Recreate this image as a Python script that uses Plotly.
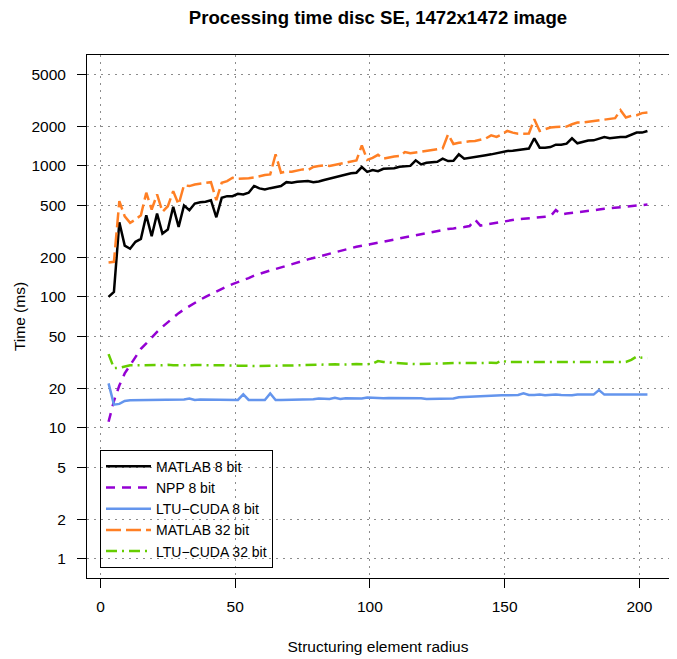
import plotly.graph_objects as go

radius = [3, 5, 7, 9, 11, 13, 15, 17, 19, 21, 23, 25, 27, 29, 31, 33, 35, 37, 39, 41,
          43, 45, 47, 49, 51, 53, 55, 57, 59, 61, 63, 65, 67, 69, 71, 73, 75, 77, 79, 81,
          83, 85, 87, 89, 91, 93, 95, 97, 99, 101, 103, 105, 107, 109, 111, 113, 115, 117, 119, 121,
          123, 125, 127, 129, 131, 133, 135, 137, 139, 141, 143, 145, 147, 149, 151, 153, 155, 157, 159, 161,
          163, 165, 167, 169, 171, 173, 175, 177, 179, 181, 183, 185, 187, 189, 191, 193, 195, 197, 199, 201,
          203]

matlab_8 = [100, 109, 371, 246, 233, 263, 277, 420, 290, 432, 304, 326, 487, 342, 498, 458, 516, 528, 532, 547,
            405, 570, 587, 587, 612, 605, 624, 702, 673, 661, 676, 693, 702, 751, 743, 755, 765, 765, 751, 760,
            780, 798, 812, 835, 861, 877, 887, 980, 900, 929, 912, 951, 955, 960, 986, 997, 1000, 1102, 1026, 1057,
            1069, 1076, 1135, 1089, 1095, 1225, 1135, 1156, 1175, 1190, 1205, 1225, 1255, 1278, 1300, 1307, 1322, 1338, 1355, 1625,
            1378, 1378, 1393, 1453, 1453, 1479, 1625, 1487, 1520, 1560, 1567, 1615, 1663, 1625, 1645, 1663, 1663, 1722, 1795, 1795,
            1849]

npp_8 = [11.1, 16, 21, 26, 30, 35, 40, 44, 49, 54, 59, 64, 70, 75, 80, 85, 90, 95, 100, 105,
         110, 115, 120, 125, 129, 134, 139, 145, 150, 154, 159, 163, 168, 173, 178, 183, 188, 193, 198, 203,
         208, 214, 220, 226, 232, 236, 241, 245, 249, 253, 258, 263, 268, 273, 279, 284, 289, 294, 300, 306,
         312, 320, 325, 330, 333, 335, 341, 347, 389, 350, 356, 362, 368, 375, 382, 388, 392, 395, 397, 401,
         405, 409, 412, 460, 425, 432, 438, 445, 451, 455, 460, 464, 470, 474, 478, 483, 490, 495, 500, 504,
         507]

ltu_8 = [21.8, 15.0, 15.2, 16.0, 16.2, 16.2, 16.2, 16.3, 16.3, 16.3, 16.3, 16.3, 16.3, 16.4, 16.4, 16.7, 16.3, 16.4, 16.4, 16.3,
         16.2, 16.3, 16.3, 16.3, 16.3, 18.0, 16.3, 16.3, 16.3, 16.3, 18.3, 16.3, 16.3, 16.3, 16.4, 16.4, 16.3, 16.4, 16.5, 16.7,
         16.6, 16.6, 16.9, 16.6, 16.8, 16.7, 16.8, 16.7, 17.0, 16.9, 17.0, 16.8, 16.9, 16.9, 16.9, 17.0, 17.0, 17.0, 16.8, 16.6,
         16.6, 16.6, 16.6, 16.6, 16.7, 17.1, 17.2, 17.3, 17.3, 17.4, 17.5, 17.5, 17.6, 17.7, 17.7, 17.7, 17.8, 18.3, 17.8, 17.8,
         17.9, 17.7, 17.9, 17.9, 17.8, 17.7, 17.7, 17.9, 17.9, 17.9, 17.9, 19.4, 17.9, 17.9, 17.8, 17.9, 17.9, 18.0, 17.9, 17.9,
         17.9]

matlab_32 = [183, 185, 537, 412, 367, 389, 420, 624, 464, 605, 446, 492, 641, 507, 713, 701, 721, 734, 743, 751,
             547, 743, 765, 812, 798, 798, 805, 815, 835, 851, 861, 1225, 887, 903, 903, 924, 940, 930, 980, 996,
             1008, 1000, 1020, 1040, 1055, 1069, 1100, 1435, 1110, 1150, 1215, 1135, 1160, 1180, 1190, 1276, 1247, 1265, 1290, 1305,
             1318, 1335, 1360, 1742, 1470, 1500, 1525, 1540, 1550, 1590, 1620, 1710, 1663, 1745, 1849, 1795, 1763, 1763, 1770, 2271,
             1849, 1905, 1963, 1985, 1995, 1995, 2080, 2142, 2142, 2170, 2205, 2230, 2271, 2300, 2315, 2663, 2341, 2410, 2438, 2530,
             2558]

ltu_32 = [36.5, 28.5, 28.7, 29.5, 30.0, 30.0, 30.1, 30.1, 30.2, 30.1, 30.0, 30.2, 30.0, 29.9, 30.0, 30.0, 30.1, 30.0, 29.9, 30.0,
          30.0, 30.0, 30.1, 29.9, 29.8, 29.9, 29.7, 29.6, 29.6, 29.6, 29.7, 29.9, 29.8, 29.8, 29.9, 30.0, 30.1, 30.1, 30.2, 30.3,
          30.4, 30.5, 30.5, 30.4, 30.3, 30.5, 30.6, 30.4, 30.5, 30.8, 32.3, 31.8, 31.5, 31.2, 31.0, 30.8, 30.7, 30.6, 30.7, 30.8,
          30.9, 31.1, 31.0, 31.2, 31.3, 31.2, 31.3, 31.2, 31.3, 31.5, 31.4, 31.3, 31.2, 32.6, 31.7, 31.7, 31.7, 31.8, 31.8, 31.7,
          31.8, 31.8, 31.7, 31.6, 31.7, 31.7, 31.6, 31.6, 31.6, 31.7, 31.6, 31.6, 31.7, 31.8, 31.8, 31.8, 31.8, 33.0, 35.0, 34.2,
          34.0]

series_names = ["MATLAB 8 bit", "NPP 8 bit", "LTU\u2212CUDA 8 bit", "MATLAB 32 bit", "LTU\u2212CUDA 32 bit"]
x_ticks = [0, 50, 100, 150, 200]
y_ticks = [1, 2, 5, 10, 20, 50, 100, 200, 500, 1000, 2000, 5000]

for s in (matlab_8, npp_8, ltu_8, matlab_32, ltu_32):
    assert len(s) == len(radius)

styles = [
    dict(color="#000000", dash="solid"),
    dict(color="#9400D3", dash="9px,7px"),
    dict(color="#6495ED", dash="solid"),
    dict(color="#FF7F24", dash="15px,5px"),
    dict(color="#66CD00", dash="11px,5px,2px,5px"),
]

FONT = "Liberation Sans, Arial, Helvetica, sans-serif"
FS = 15.5

# The page body has an 8px default margin, so the figure is sized to the remaining window.
W, H = 669, 651
L, T, R, B = 79, 47, 8, 81
PW, PH = W - L - R, H - T - B

fig = go.Figure()
for name, ys, st in zip(series_names, [matlab_8, npp_8, ltu_8, matlab_32, ltu_32], styles):
    fig.add_trace(go.Scatter(x=radius, y=ys, mode="lines", name=name,
                             line=dict(color=st["color"], dash=st["dash"], width=2.5)))

fig.update_layout(
    template="none",
    width=W, height=H,
    margin=dict(l=L, r=R, t=T, b=B, autoexpand=False),
    paper_bgcolor="white", plot_bgcolor="white",
    font=dict(family=FONT, size=FS, color="black"),
    title=dict(text="<b>Processing time disc SE, 1472x1472 image</b>",
               x=0.5, xref="paper", xanchor="center",
               y=1 - 9 / H, yref="container", yanchor="middle",
               font=dict(size=18.6, family=FONT, color="black")),
    legend=dict(x=(92 - L) / PW, xanchor="left", y=(570 - 559.7) / PH, yanchor="bottom",
                bgcolor="rgba(0,0,0,0)", bordercolor="black", borderwidth=1,
                itemwidth=45,
                font=dict(size=14, family=FONT, color="black"), tracegroupgap=0),
    showlegend=True,
)

fig.update_xaxes(range=[-5, 211], tickvals=x_ticks, ticktext=[str(v) for v in x_ticks],
                 ticks="outside", ticklen=9, tickwidth=1, tickcolor="black",
                 showline=True, linecolor="black", linewidth=1, mirror=True,
                 showgrid=True, gridcolor="#8c8c8c", gridwidth=1, griddash="1.5px,5.5px",
                 zeroline=False, ticklabelstandoff=5, automargin=False,
                 title=dict(text="Structuring element radius", standoff=27,
                            font=dict(size=FS, family=FONT, color="black")))

fig.update_yaxes(type="log", range=[-0.148, 3.847], tickvals=y_ticks, ticktext=[str(v) for v in y_ticks],
                 ticks="outside", ticklen=9, tickwidth=1, tickcolor="black",
                 showline=True, linecolor="black", linewidth=1, mirror=True,
                 showgrid=True, gridcolor="#8c8c8c", gridwidth=1, griddash="1.5px,5.5px",
                 zeroline=False, ticklabelstandoff=8, automargin=False,
                 title=dict(text="Time (ms)", standoff=1,
                            font=dict(size=FS, family=FONT, color="black")))

fig.write_html("out.html")
